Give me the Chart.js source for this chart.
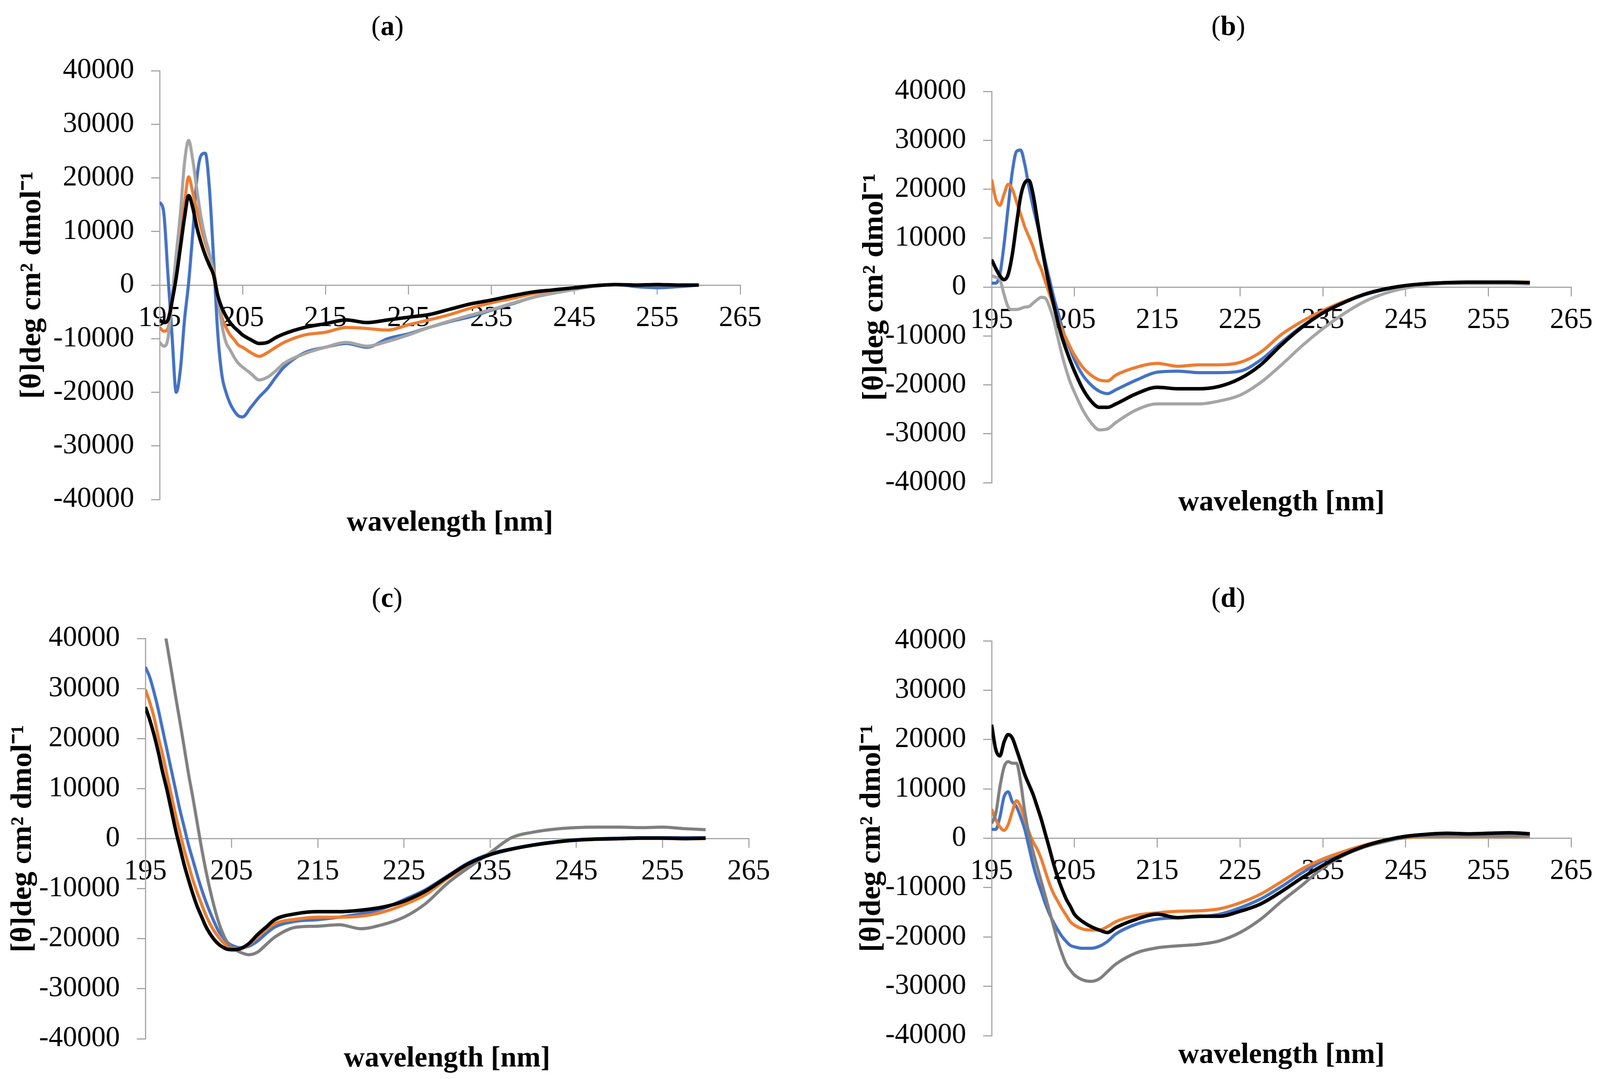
<!DOCTYPE html>
<html>
<head>
<meta charset="utf-8">
<title>CD spectra (a)-(d)</title>
<script src="https://cdn.jsdelivr.net/npm/chart.js@4.4.1/dist/chart.umd.min.js"></script>
<style>
  html, body { margin: 0; padding: 0; background: #fff; overflow: hidden; }
  #page { position: absolute; left: 0; top: 0; width: 4150px; height: 2763px; transform-origin: 0 0; font-family: "Liberation Serif", serif; background: #fff; }
  canvas { position: absolute; }
  .panel-label { position: absolute; font-size: 72px; line-height: 1; transform: translate(-50%, -50%); white-space: nowrap; color: #000; }
</style>
</head>
<body>
<div id="page">
  <canvas id="chartA" width="2075" height="1400" style="left:0px;top:0px"></canvas>
  <canvas id="chartB" width="2075" height="1400" style="left:2075px;top:0px"></canvas>
  <canvas id="chartC" width="2075" height="1363" style="left:0px;top:1400px"></canvas>
  <canvas id="chartD" width="2075" height="1363" style="left:2075px;top:1400px"></canvas>

  <div class="panel-label" style="left:1005px;top:66px">(<b>a</b>)</div>
  <div class="panel-label" style="left:3186px;top:66px">(<b>b</b>)</div>
  <div class="panel-label" style="left:1004px;top:1530px">(<b>c</b>)</div>
  <div class="panel-label" style="left:3186px;top:1530px">(<b>d</b>)</div>
</div>

<script>
// wavelength grid (nm) shared by all four panels
const wavelengths = [
  195, 195.5, 196, 196.5, 197, 197.5, 198, 198.5, 199, 199.5,
  200, 200.5, 201, 201.5, 202, 202.5, 203, 203.5, 204, 204.5,
  205, 206, 207, 208, 209, 210, 212.5, 215, 217.5, 220,
  222.5, 225, 227.5, 230, 232.5, 235, 237.5, 240, 242.5, 245,
  247.5, 250, 252.5, 255, 257.5, 260
];

const xTickValues = [195, 205, 215, 225, 235, 245, 255, 265];
const yTickValues = [-40000, -30000, -20000, -10000, 0, 10000, 20000, 30000, 40000];

const xTitle = 'wavelength [nm]';
const yTitle = '[θ]deg cm² dmol⁻¹';

// panel (a)
const aBlue = [
  15500, 13500, 2000, -9500, -20000, -15800, -6500, 500, 9800, 20000,
  24200, 24600, 18100, 5100, -8800, -16700, -20000, -22100, -23500, -24400,
  -24600, -22800, -20900, -19300, -17200, -15300, -12600, -11600, -10900, -11600,
  -10000, -9100, -7900, -6800, -5900, -4700, -3500, -2300, -1500, -800,
  -200, 100, -300, -500, -300, 0
];
const aOrange = [
  -7900, -8600, -8100, -3200, 3100, 9100, 15300, 20200, 17200, 14000,
  10700, 7900, 5600, 2800, -1900, -6000, -7900, -9300, -10200, -11200,
  -11600, -12600, -13300, -12600, -11600, -10700, -9300, -8800, -7900, -8100,
  -8400, -7400, -6500, -5500, -4300, -3300, -2500, -1600, -1000, -500,
  -100, 100, 0, 100, 0, 0
];
const aGray = [
  -10700, -11400, -10000, -2200, 5700, 13300, 22800, 27000, 23300, 17700,
  12600, 8800, 6000, 2300, -2300, -7400, -10700, -12100, -13500, -14600,
  -15300, -16500, -17700, -17200, -16000, -14600, -12800, -11600, -10700, -11400,
  -10500, -9300, -7900, -6700, -5600, -4600, -3400, -2300, -1500, -800,
  -200, 100, 0, 0, 0, 0
];
const aBlack = [
  -6500, -7000, -6500, -3000, 1400, 7000, 12600, 16700, 14400, 10700,
  7900, 5600, 3700, 1900, -1900, -4200, -5800, -7000, -7900, -8600,
  -9300, -10200, -10900, -10700, -9800, -9100, -7900, -7200, -6500, -7000,
  -6500, -6000, -5500, -4500, -3500, -2800, -2000, -1300, -900, -500,
  -100, 100, 0, 100, 0, 0
];

// panel (b)
const bBlue = [
  800, 800, 2600, 8700, 16400, 23600, 27700, 28000, 25100, 20500,
  16400, 12800, 9200, 5100, 1500, -2100, -5100, -8200, -10800, -12800,
  -14900, -18000, -20000, -21300, -21800, -21000, -19000, -17400, -17200, -17500,
  -17500, -17200, -14900, -11300, -8000, -5300, -3200, -1600, -500, 200,
  600, 800, 800, 800, 800, 700
];
const bOrange = [
  22000, 18000, 16700, 19000, 21000, 20000, 17400, 14900, 12300, 10300,
  8200, 5600, 3600, 1000, -1500, -4100, -6700, -8700, -10500, -12300,
  -13900, -16400, -18000, -19000, -19200, -18000, -16400, -15600, -16200, -15900,
  -15900, -15400, -13300, -9700, -7000, -4800, -3000, -1500, -400, 300,
  700, 900, 900, 1000, 1000, 1000
];
const bGray = [
  2300, 2000, 1500, -1500, -4100, -4600, -4600, -4400, -4100, -4000,
  -3300, -2600, -2100, -2300, -4100, -6700, -10300, -13900, -16900, -19500,
  -21500, -25100, -27700, -29200, -29000, -27700, -25100, -23900, -23900, -23900,
  -23300, -22100, -19500, -15900, -12000, -8500, -5500, -3000, -1300, -200,
  400, 700, 700, 700, 700, 600
];
const bBlack = [
  5600, 3800, 2300, 1500, 2600, 6700, 12800, 18500, 21300, 21800,
  19000, 13900, 8700, 4100, 0, -3600, -7200, -10300, -12800, -15100,
  -17200, -20800, -23300, -24600, -24600, -23900, -21800, -20500, -20800, -20800,
  -20300, -18700, -15900, -11800, -8200, -5300, -3200, -1500, -400, 300,
  700, 900, 1000, 1000, 1000, 900
];

// panel (c)
const cBlue = [
  34300, 32300, 29300, 25800, 21800, 17800, 13800, 9800, 5800, 2300,
  -1200, -4200, -7200, -10000, -12500, -14700, -16700, -18500, -19700, -20700,
  -21300, -21800, -21500, -20500, -19000, -17700, -16500, -16200, -15700, -15000,
  -14000, -12200, -10200, -7500, -4800, -3000, -2000, -1200, -600, -200,
  0, 100, 200, 200, 200, 200
];
const cOrange = [
  29800, 27300, 24300, 20300, 16800, 12800, 8800, 4800, 1300, -2200,
  -5200, -8200, -10700, -13000, -15200, -17000, -18500, -19700, -20700, -21500,
  -21800, -22000, -21200, -19700, -18200, -17000, -16100, -15700, -15700, -15500,
  -14700, -13200, -11200, -8000, -5300, -3200, -2100, -1300, -700, -300,
  -100, 0, 100, 100, 0, 0
];
const cGray = [
  null, null, null, null, 44000, 38900, 33800, 28500, 23500, 18300,
  13000, 8300, 3300, -1700, -6200, -10200, -13700, -16700, -19000, -20700,
  -21700, -22700, -23200, -22700, -21200, -19700, -17700, -17500, -17200, -18000,
  -17200, -15700, -13000, -9000, -5800, -2800, 200, 1300, 1900, 2200,
  2300, 2300, 2200, 2300, 2000, 1800
];
const cBlack = [
  26300, 23800, 20800, 17300, 13300, 9800, 5800, 1800, -1700, -5200,
  -8200, -11000, -13500, -15500, -17500, -19000, -20200, -21100, -21700, -22100,
  -22200, -22000, -21000, -19200, -17700, -16200, -15000, -14600, -14600, -14300,
  -13700, -12500, -10500, -7700, -5000, -3200, -2100, -1300, -700, -300,
  -100, 0, 100, 100, 0, 100
];

// panel (d)
const dBlue = [
  1800, 1800, 4300, 8400, 9400, 7400, 6400, 4300, 1800, -1700,
  -5300, -8300, -10800, -13300, -15400, -17100, -18600, -19900, -20900, -21700,
  -22000, -22300, -22300, -21900, -20900, -19400, -17400, -16400, -16100, -15900,
  -15400, -14100, -12300, -9800, -7000, -4600, -2900, -1500, -500, 100,
  300, 300, 300, 300, 300, 300
];
const dOrange = [
  5900, 3800, 2300, 1600, 2800, 5400, 7600, 6400, 3800, 1300,
  -700, -2200, -4200, -6800, -9300, -11300, -12800, -14300, -15600, -16900,
  -17600, -18400, -18600, -18600, -17900, -16900, -15600, -15100, -14800, -14700,
  -14300, -13100, -11300, -8800, -6200, -4200, -2700, -1400, -400, 100,
  300, 300, 300, 300, 300, 300
];
const dGray = [
  3000, 5000, 10400, 14400, 15500, 15200, 15200, 11400, 5400, 800,
  -2700, -5800, -8800, -11800, -14900, -17900, -20900, -23400, -25500, -26700,
  -27700, -28700, -29000, -28500, -27000, -25500, -23200, -22200, -21800, -21500,
  -20800, -19100, -16400, -12800, -9500, -6000, -3500, -1800, -700, 200,
  500, 500, 500, 500, 500, 500
];
const dBlack = [
  23000, 18000, 16700, 19500, 21000, 20300, 18000, 15500, 12900, 10900,
  8900, 6400, 3800, 800, -2200, -5300, -8000, -10300, -12300, -13800,
  -15400, -16900, -17900, -18600, -19100, -18100, -16400, -15400, -16100, -15800,
  -15800, -14800, -13300, -10800, -8000, -5500, -3300, -1600, -400, 400,
  800, 1000, 900, 1000, 1100, 900
];

// plot-area geometry of each panel in page px (4150 x 2763 frame)
const frames = {
  chartA: { canvasLeft: 0, canvasTop: 0, left: 414, right: 1920, top: 181, bottom: 1279, yTitleX: 84, xTitleY: 1340, gray: '#a5a5a5' },
  chartB: { canvasLeft: 2075, canvasTop: 0, left: 2572, right: 4096, top: 234, bottom: 1236, yTitleX: 2269, xTitleY: 1288, gray: '#a5a5a5' },
  chartC: { canvasLeft: 0, canvasTop: 1400, left: 377, right: 1942, top: 1635, bottom: 2660, yTitleX: 60, xTitleY: 2712, gray: '#7f7f7f' },
  chartD: { canvasLeft: 2075, canvasTop: 1400, left: 2572, right: 4096, top: 1641, bottom: 2652, yTitleX: 2262, xTitleY: 2703, gray: '#7f7f7f' },
};

// fit the 4150 x 2763 frame into whatever viewport we actually get
const page = document.getElementById('page');
page.style.transform = 'scale(' + (window.innerWidth / 4150) + ',' + (window.innerHeight / 2763) + ')';

const axisGray = '#a6a6a6';
const tickFont = { family: 'Liberation Serif', size: 74, lineHeight: 1.2 };
const titleFont = { family: 'Liberation Serif', size: 75, weight: 'bold', lineHeight: 1 };

Chart.defaults.font.family = "'Liberation Serif', serif";
Chart.defaults.color = '#000';

function toPoints(values) {
  return wavelengths.map((w, i) => ({ x: w, y: values[i] }));
}

function lineSet(values, color, width, order) {
  return {
    data: toPoints(values),
    borderColor: color,
    backgroundColor: color,
    borderWidth: width,
    pointRadius: 0,
    fill: false,
    cubicInterpolationMode: 'monotone',
    order: order,
    xAxisID: 'x',
    yAxisID: 'y',
  };
}

function buildPanel(canvasId, series) {
  const canvas = document.getElementById(canvasId);
  const f = frames[canvasId];
  const W = canvas.width;
  const H = canvas.height;

  new Chart(canvas, {
    type: 'line',
    data: {
      datasets: [
        lineSet(series.black, '#000000', 9, 0),
        lineSet(series.gray, f.gray, 8, 1),
        lineSet(series.orange, '#ed7d31', 8, 2),
        lineSet(series.blue, '#4472c4', 8, 3),
      ]
    },
    options: {
      responsive: false,
      animation: false,
      devicePixelRatio: 1,
      layout: {
        padding: { left: 0, top: f.top - f.canvasTop, right: f.canvasLeft + W - f.right, bottom: 0 }
      },
      plugins: {
        legend: { display: false },
        tooltip: { enabled: false },
      },
      scales: {
        x: {
          type: 'linear',
          axis: 'x',
          position: { y: 0 },
          min: 195,
          max: 265,
          afterBuildTicks: (s) => { s.ticks = xTickValues.map(v => ({ value: v })); },
          afterFit: (s) => { s.height = 0; },
          ticks: { font: tickFont, color: '#000', padding: 19, autoSkip: false, maxRotation: 0, callback: (v) => String(v) },
          grid: { display: true, drawOnChartArea: false, drawTicks: true, tickLength: 22, color: axisGray, lineWidth: 3 },
          border: { display: true, color: axisGray, width: 3 },
        },
        xTitle: {
          type: 'linear',
          axis: 'x',
          position: 'bottom',
          min: 195,
          max: 265,
          afterFit: (s) => { s.height = f.canvasTop + H - f.bottom; },
          ticks: { display: false },
          grid: { display: false },
          border: { display: false },
          title: {
            display: true,
            text: xTitle,
            font: titleFont,
            color: '#000',
            padding: { top: 0, bottom: Math.max(0, f.canvasTop + H - f.xTitleY - 37.5) },
          },
        },
        y: {
          type: 'linear',
          position: 'left',
          min: -40000,
          max: 40000,
          afterBuildTicks: (s) => { s.ticks = yTickValues.map(v => ({ value: v })); },
          afterFit: (s) => { s.width = f.left - f.canvasLeft; },
          ticks: { font: tickFont, color: '#000', padding: 44, autoSkip: false, callback: (v) => String(v) },
          grid: { display: true, drawOnChartArea: false, drawTicks: true, tickLength: 22, color: axisGray, lineWidth: 3 },
          border: { display: true, color: axisGray, width: 3 },
          title: {
            display: true,
            text: yTitle,
            font: { family: 'Liberation Serif', size: 77, weight: 'bold', lineHeight: 1 },
            color: '#000',
            padding: { top: f.yTitleX - f.canvasLeft - 38, bottom: 0 },
          },
        },
      },
    },
  });
}

buildPanel('chartA', { blue: aBlue, orange: aOrange, gray: aGray, black: aBlack });
buildPanel('chartB', { blue: bBlue, orange: bOrange, gray: bGray, black: bBlack });
buildPanel('chartC', { blue: cBlue, orange: cOrange, gray: cGray, black: cBlack });
buildPanel('chartD', { blue: dBlue, orange: dOrange, gray: dGray, black: dBlack });
</script>
</body>
</html>
